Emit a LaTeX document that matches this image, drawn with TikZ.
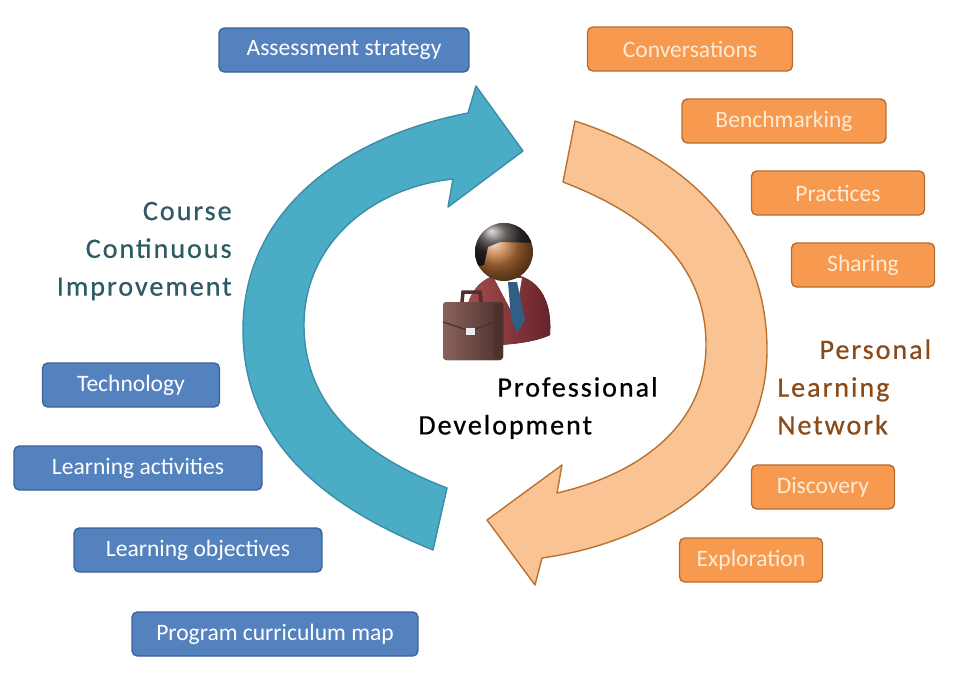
\documentclass[tikz,border=0pt]{standalone}
\usepackage{fontspec}
\setmainfont{Carlito}
\newfontfamily\tagfont[LetterSpace=7,FakeBold=0.6]{Carlito}
\definecolor{bluefill}{HTML}{5482BE}
\definecolor{bluedge}{HTML}{3B6399}
\definecolor{orangefill}{HTML}{F79A4F}
\definecolor{orangedge}{HTML}{B86C2E}
\definecolor{orangetext}{HTML}{FDEBD6}
\definecolor{tealfill}{HTML}{4BACC6}
\definecolor{tealedge}{HTML}{3A8EA5}
\definecolor{peachfill}{HTML}{FAC394}
\definecolor{peachedge}{HTML}{B87333}
\definecolor{coursetext}{HTML}{2E5A63}
\definecolor{plntext}{HTML}{8B4A17}
\definecolor{suitlight}{HTML}{A8504E}
\definecolor{suitdark}{HTML}{66222A}
\definecolor{tieblue}{HTML}{2F5F85}
\definecolor{headorange}{HTML}{C87A3C}
\definecolor{hair}{HTML}{2E2A28}
\definecolor{caselight}{HTML}{8A625D}
\definecolor{casedark}{HTML}{4E302D}
\begin{document}
\begin{tikzpicture}[x=0.02cm,y=-0.02cm,
    bluebox/.style={draw=bluedge,fill=bluefill,text=white,rounded corners=3pt,
      line width=0.8pt,minimum height=0.88cm,font=\fontsize{13.4}{16}\selectfont},
    orangebox/.style={bluebox,draw=orangedge,fill=orangefill,text=orangetext},
    tagtext/.style={inner sep=0pt,font=\tagfont\fontsize{16}{21.5}\selectfont}]
  \useasboundingbox (0,0) rectangle (960,680);
  % the two circular arrows
  \draw[fill=tealfill,draw=tealedge,line width=0.8pt,line join=round]
    (433,550) to[out=158,in=270] (243,330) to[out=90,in=191] (468,113)
    -- (476,86) -- (523,151) -- (448,207) -- (453,179)
    to[out=186,in=90] (304,325) to[out=270,in=159] (447,488) -- cycle;
  \draw[fill=peachfill,draw=peachedge,line width=0.8pt,line join=round]
    (575,121) to[out=342,in=90] (767,350) to[out=270,in=8] (542,558)
    -- (535,585) -- (487,520) -- (562,465) -- (557,493)
    to[out=13,in=270] (706,345) to[out=90,in=339] (563,182) -- cycle;
  % the man with the briefcase
  \fill[left color=suitlight,right color=suitdark]
    (465,342) .. controls (460,290) and (485,274) .. (506,274)
    .. controls (530,274) and (553,290) .. (550,335)
    .. controls (530,345) and (480,348) .. (465,342) -- cycle;
  \fill[white] (494,278) -- (522,278) -- (515,318) -- cycle;
  \fill[tieblue] (508,282) -- (517,282) -- (525,320) -- (517,333) -- (511,318) -- cycle;
  \shade[ball color=headorange] (504,252) circle (0.58cm);
  \begin{scope}
    \clip (504,252) circle (0.58cm);
    \shade[ball color=hair] (470,215) -- (540,215) -- (540,243) -- (500,242)
      -- (488,247) -- (484,265) -- (470,268) -- cycle;
  \end{scope}
  \draw[casedark,line width=2pt] (462,302) -- (463,292) -- (480,292) -- (481,302);
  \fill[left color=caselight,right color=casedark,rounded corners=2pt]
    (443,302) rectangle (503,360);
  \fill[casedark] (494,304) rectangle (503,358);
  \draw[casedark,line width=0.8pt] (443,322) -- (470,331) -- (494,322);
  \fill[white!85!gray] (466,328) rectangle (475,335);
  % course side
  \node[bluebox,minimum width=5cm] (assess) at (344,50) {Assessment strategy};
  \node[bluebox,minimum width=3.54cm] (tech) at (131,385) {Technology};
  \node[bluebox,minimum width=4.96cm] (activ) at (138,468) {Learning activities};
  \node[bluebox,minimum width=4.96cm] (object) at (198,550) {Learning objectives};
  \node[bluebox,minimum width=5.72cm] (currmap) at (275,634) {Program curriculum map};
  % network side
  \node[orangebox,minimum width=4.1cm] (conv) at (690,49) {Conversations};
  \node[orangebox,minimum width=4.08cm] (bench) at (784,121) {Benchmarking};
  \node[orangebox,minimum width=3.46cm] (pract) at (838,193) {Practices};
  \node[orangebox,minimum width=2.86cm] (share) at (863,265) {Sharing};
  \node[orangebox,minimum width=2.86cm] (disc) at (823,487) {Discovery};
  \node[orangebox,minimum width=2.86cm] (explo) at (751,560) {Exploration};
  % titles
  \node[tagtext,anchor=east,align=right,text=coursetext] (course) at (232,251)
    {Course\\Continuous\\Improvement};
  \node[tagtext,anchor=west,align=left,text=plntext] (pln) at (777,387)
    {\hspace*{24pt}Personal\\Learning\\Network};
  \node[tagtext,anchor=west,align=left] (profdev) at (418,408)
    {\hspace*{45pt}Professional\\Development};
\end{tikzpicture}
\end{document}
